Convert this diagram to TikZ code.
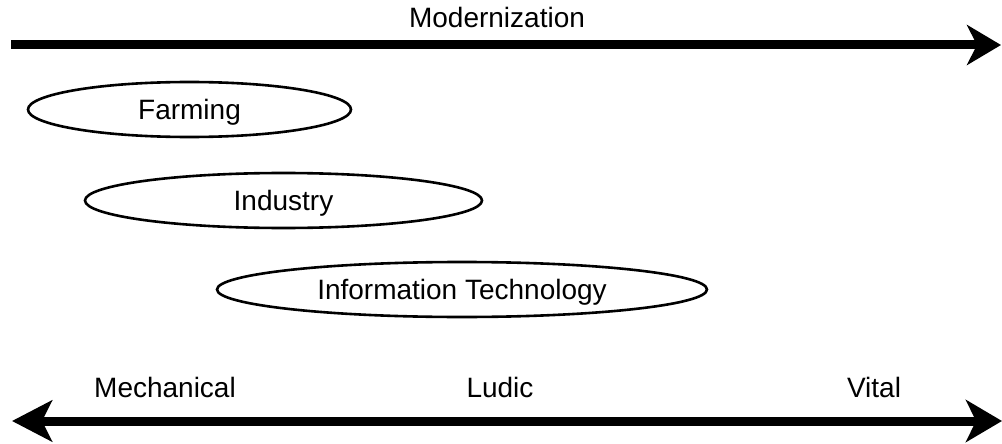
\documentclass[tikz,border=0pt]{standalone}
\usepackage{fontspec}
\setmainfont{Liberation Sans}
\usetikzlibrary{arrows.meta,shapes.geometric}
\begin{document}
\begin{tikzpicture}[x=1pt,y=-1pt,
  lbl/.style={anchor=base,inner sep=0pt,font=\fontsize{28}{34}\selectfont},
  era/.style={draw,ellipse,line width=2.6pt,minimum height=55pt,inner sep=2pt,
    text height=20pt,text depth=0pt,font=\fontsize{28}{34}\selectfont},
  axis/.style={line width=9pt}]
\useasboundingbox (0,0) rectangle (1002,444);
% top axis
\coordinate (m0) at (11,45);
\coordinate (m1) at (1001,45);
\draw[axis,-{Stealth[length=34pt,width=40pt,inset=10pt]}] (m0) -- (m1);
\node[lbl] (mod) at (497,28) {Modernization};
% ellipses
\node[era,minimum width=323pt] (farm) at (189.5,109.5) {Farming};
\node[era,minimum width=397pt] (ind) at (283.5,200.5) {Industry};
\node[era,minimum width=490pt] (it) at (462,289.5) {Information Technology};
% bottom axis
\coordinate (b0) at (12,421);
\coordinate (b1) at (1002,421);
\draw[axis,{Stealth[length=40pt,width=41pt,inset=10pt]}-{Stealth[length=36pt,width=42pt,inset=10pt]}] (b0) -- (b1);
\node[lbl] (mech) at (165,397) {Mechanical};
\node[lbl] (ludic) at (500,397) {Ludic};
\node[lbl] (vital) at (874,397) {Vital};
\end{tikzpicture}
\end{document}
